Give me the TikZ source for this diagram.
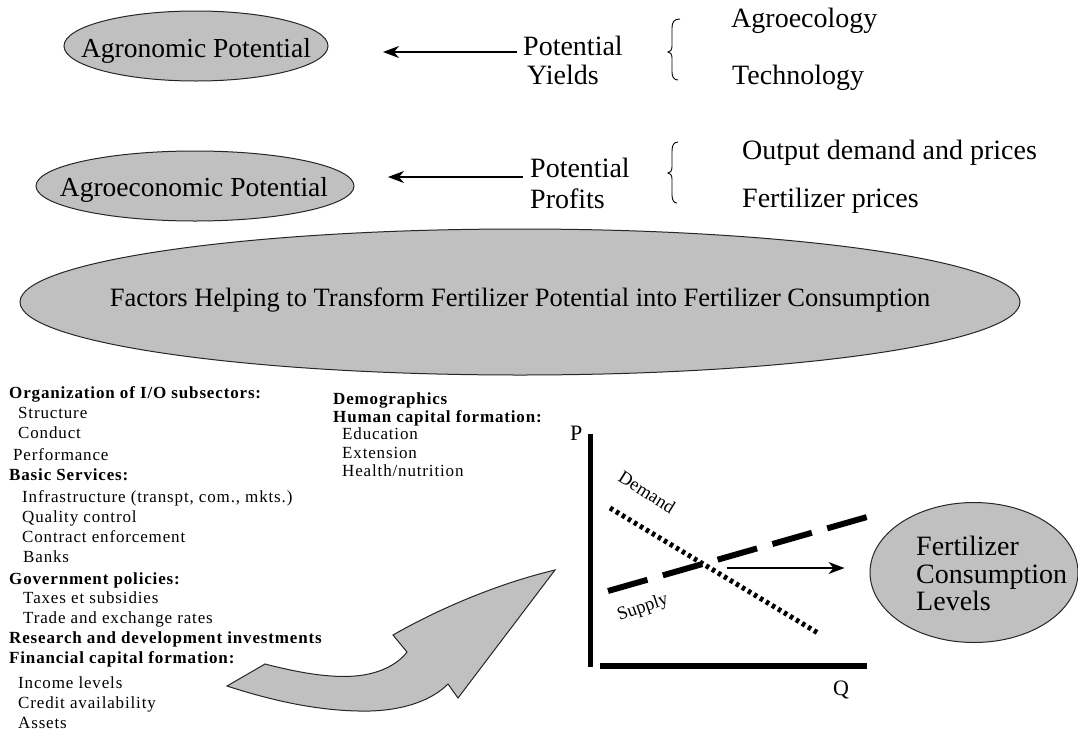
\documentclass[tikz,border=0pt]{standalone}
\usepackage{fontspec}
\setmainfont{Liberation Serif}
\newfontfamily\lstfont[LetterSpace=5]{Liberation Serif}
\usetikzlibrary{arrows.meta,shapes.geometric}
\definecolor{silv}{RGB}{192,192,192}
\begin{document}
\begin{tikzpicture}[x=1pt,y=-1pt,
  ellbox/.style={ellipse, draw=black!85, line width=1pt, fill=silv, inner sep=0pt},
  big/.style={font=\fontsize{27.5}{30}\selectfont, inner sep=0pt, anchor=base},
  rt/.style={font=\fontsize{28}{28}\selectfont, inner sep=0pt, anchor=base west},
  lsth/.style={font=\lstfont\bfseries\fontsize{17}{20}\selectfont, inner sep=0pt, anchor=base west},
  lsti/.style={font=\lstfont\fontsize{17}{20}\selectfont, inner sep=0pt, anchor=base west},
  thinarrow/.style={line width=1.1pt, -{Stealth[length=16pt,width=12pt,inset=5pt]}},
  bracepath/.style={line width=0.9pt},
  axis/.style={line width=#1},
  gl/.style={font=\fontsize{22}{22}\selectfont, inner sep=0pt, anchor=base west},
  curvlab/.style={font=\fontsize{18.5}{19}\selectfont, inner sep=0pt},
]
\useasboundingbox (0,0) rectangle (1078,734);

% --- top ellipses
\node[ellbox, minimum width=264pt, minimum height=70pt] (agron) at (196,46) {};
\node[big] (agrontxt) at (196,57) {Agronomic Potential};
\node[ellbox, minimum width=318pt, minimum height=70pt] (agroe) at (195,186) {};
\node[big] (agroetxt) at (194,196) {Agroeconomic Potential};

% --- potential texts
\node[rt] (pot1) at (523,55) {Potential};
\node[rt] (yld) at (527,84) {Yields};
\node[rt] (pot2) at (530,177) {Potential};
\node[rt] (prf) at (530,208) {Profits};
\node[rt] (agec) at (731,27) {Agroecology};
\node[rt] (tech) at (732,84) {Technology};
\node[rt] (outp) at (742,159) {Output demand and prices};
\node[rt] (ferp) at (742,207) {Fertilizer prices};

% --- arrows to ellipses
\coordinate (a1tip) at (383,52);
\coordinate (a2tip) at (388,177);
\draw[thinarrow, shorten <=6pt] (pot1.west |- a1tip) -- (a1tip);
\draw[thinarrow, shorten <=7pt] (pot2.west |- a2tip) -- (a2tip);

% --- braces
\draw[bracepath] (680,19) .. controls (674,19) and (672,22) .. (672,28) -- (672,46)
  .. controls (672,50) and (670,52) .. (668,52) .. controls (670,52) and (672,54) .. (672,58)
  -- (672,72) .. controls (672,77) and (674,80) .. (678,80);
\draw[bracepath] (678,142) .. controls (674,142) and (672,145) .. (672,151) -- (672,167)
  .. controls (672,171) and (670,173) .. (668,173) .. controls (670,173) and (672,175) .. (672,179)
  -- (672,195) .. controls (672,200) and (674,203) .. (677,203);

% --- big ellipse
\node[ellbox, minimum width=1000pt, minimum height=146pt] (fact) at (520,302) {};
\node[font=\fontsize{26.5}{30}\selectfont, inner sep=0pt, anchor=base] (facttxt) at (520,306)
  {Factors Helping to Transform Fertilizer Potential into Fertilizer Consumption};

% --- left list
\node[lsth] (l1) at (9,398) {Organization of I/O subsectors:};
\node[lsti] (l2) at (18,418) {Structure};
\node[lsti] (l3) at (18,438) {Conduct};
\node[lsti] (l4) at (13,460) {Performance};
\node[lsth] (l5) at (9,480) {Basic Services:};
\node[lsti] (l6) at (22,502) {Infrastructure (transpt, com., mkts.)};
\node[lsti] (l7) at (22,522) {Quality control};
\node[lsti] (l8) at (22,542) {Contract enforcement};
\node[lsti] (l9) at (23,562) {Banks};
\node[lsth] (l10) at (9,584) {Government policies:};
\node[lsti] (l11) at (23,603) {Taxes et subsidies};
\node[lsti] (l12) at (23,623) {Trade and exchange rates};
\node[lsth] (l13) at (9,643) {Research and development investments};
\node[lsth] (l14) at (9,663) {Financial capital formation:};
\node[lsti] (l15) at (18,688) {Income levels};
\node[lsti] (l16) at (18,708) {Credit availability};
\node[lsti] (l17) at (18,728) {Assets};

% --- middle list
\node[lsth] (m1) at (333,404) {Demographics};
\node[lsth] (m2) at (333,422) {Human capital formation:};
\node[lsti] (m3) at (342,439) {Education};
\node[lsti] (m4) at (342,458) {Extension};
\node[lsti] (m5) at (342,476) {Health/nutrition};

% --- curved block arrow
\draw[fill=silv, draw=black!85, line width=1pt]
  (227,686) -- (265,664)
  .. controls (300,673) and (330,678) .. (355,676)
  .. controls (380,674) and (398,664) .. (407,652)
  -- (393,635)
  .. controls (440,608) and (500,583) .. (555,570)
  -- (458,698) -- (448,684)
  .. controls (432,700) and (405,710) .. (370,711)
  .. controls (320,712) and (270,700) .. cycle;

% --- supply / demand graph
\node[gl] (plab) at (570,440) {P};
\node[gl] (qlab) at (833,695) {Q};
\coordinate (vtop) at (590.5,434);
\coordinate (vbot) at (590.5,667);
\draw[axis=5pt] (vtop) -- (vbot);
\coordinate (hl) at (600,666);
\coordinate (hr) at (867,666);
\draw[axis=6pt] (hl) -- (hr);
\coordinate (s1) at (608,591);
\coordinate (s2) at (867,517);
\draw[line width=6pt, dash pattern=on 41pt off 16pt] (s1) -- (s2);
\coordinate (d1) at (610,508);
\coordinate (d2) at (818,633);
\draw[line width=5pt, dash pattern=on 3.5pt off 3.5pt] (d1) -- (d2);
\node[curvlab, rotate=-32] (dlab) at (647,492) {Demand};
\node[curvlab, rotate=19] (slab) at (643,608) {Supply};

% --- consumption ellipse
\node[ellbox, minimum width=208pt, minimum height=140pt] (fcl) at (974,572.5) {};
\node[rt] (f1) at (916,555) {Fertilizer};
\node[rt] (f2) at (916,583) {Consumption};
\node[rt] (f3) at (916,610) {Levels};

\coordinate (eq) at (727,568);
\draw[thinarrow, shorten >=25pt] (eq) -- (fcl.west |- eq);
\end{tikzpicture}
\end{document}
